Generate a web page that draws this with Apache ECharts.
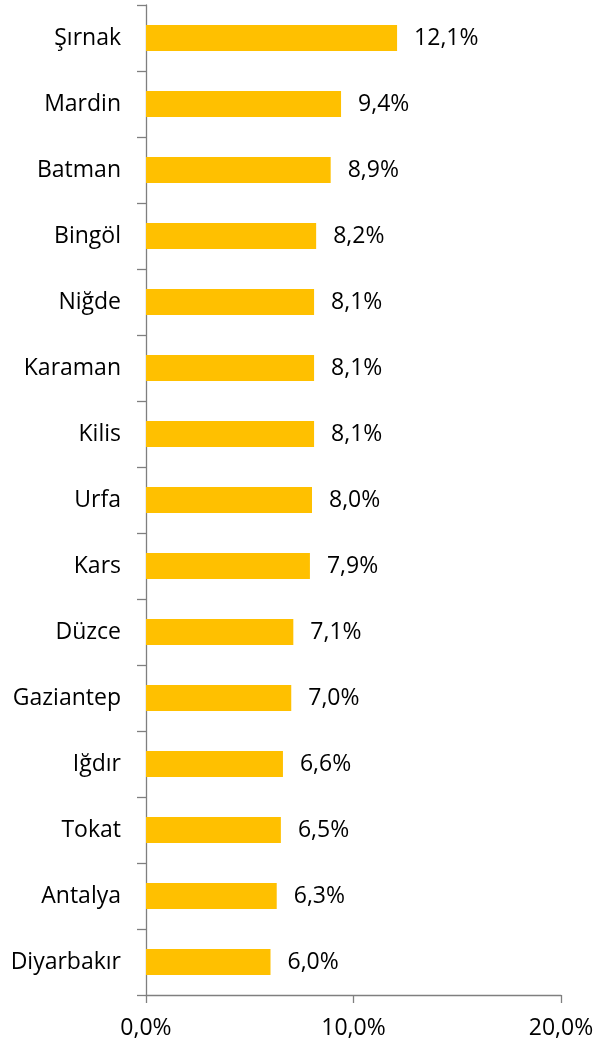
<!DOCTYPE html>
<html>
<head>
<meta charset="utf-8">
<script src="https://cdn.jsdelivr.net/npm/echarts@6/dist/echarts.min.js"></script>
<style>
html,body{margin:0;padding:0;background:#fff;}
#chart{width:608px;height:1045px;}
</style>
</head>
<body>
<div id="chart"></div>
<script>
const categories = ["Şırnak","Mardin","Batman","Bingöl","Niğde","Karaman","Kilis","Urfa","Kars","Düzce","Gaziantep","Iğdır","Tokat","Antalya","Diyarbakır"];
const values = [12.1,9.4,8.9,8.2,8.1,8.1,8.1,8.0,7.9,7.1,7.0,6.6,6.5,6.3,6.0];
const xTicks = [0,10,20];

const fmt = v => v.toFixed(1).replace('.', ',') + '%';
const FONT = 'Open Sans';
const chart = echarts.init(document.getElementById('chart'));
chart.setOption({
  animation: false,
  grid: {left: 146, right: 47, top: 5, bottom: 50, containLabel: false},
  xAxis: {
    type: 'value', min: xTicks[0], max: xTicks[xTicks.length-1], interval: xTicks[1]-xTicks[0],
    axisLine: {show: true, lineStyle: {color: '#7f7f7f', width: 1.3}},
    axisTick: {show: true, length: 8, lineStyle: {color: '#7f7f7f', width: 1.3}},
    splitLine: {show: false},
    axisLabel: {formatter: fmt, color: '#000', fontFamily: FONT, fontSize: 23, margin: 22}
  },
  yAxis: {
    type: 'category', data: categories, inverse: true,
    axisLine: {show: true, lineStyle: {color: '#7f7f7f', width: 1.3}},
    axisTick: {show: true, length: 9, lineStyle: {color: '#7f7f7f', width: 1.3}},
    axisLabel: {color: '#000', fontFamily: FONT, fontSize: 23, margin: 25}
  },
  series: [{
    type: 'bar', data: values, barWidth: 26,
    itemStyle: {color: '#FFC000'},
    label: {show: true, position: 'right', distance: 17, formatter: p => fmt(p.value), color: '#000', fontFamily: FONT, fontSize: 23}
  }]
});
</script>
</body>
</html>
